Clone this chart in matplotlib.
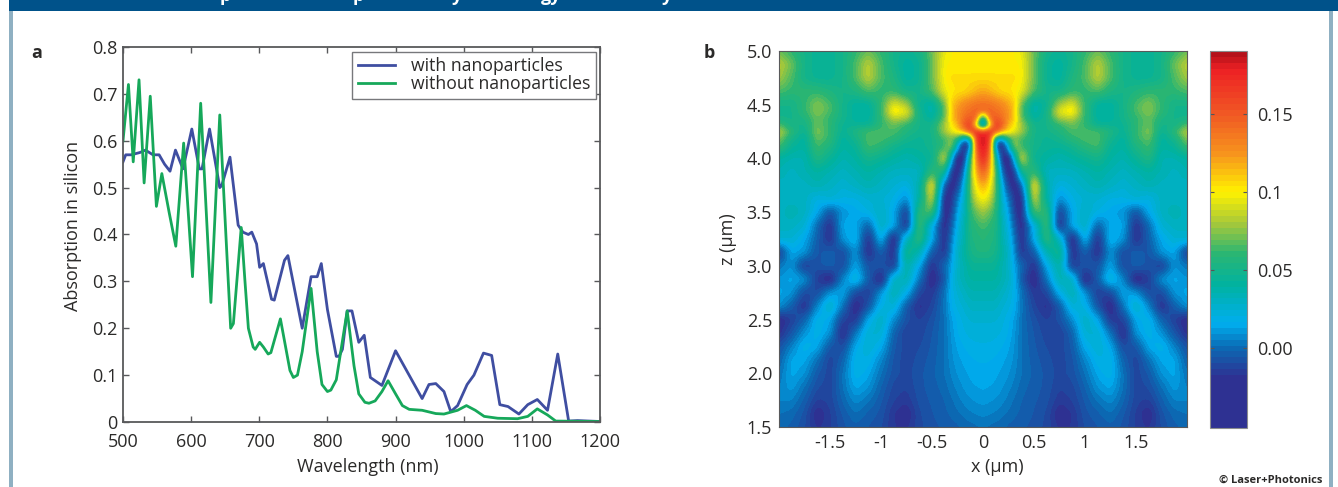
import numpy as np
import matplotlib
matplotlib.use("Agg")
import matplotlib.pyplot as plt
from matplotlib.colors import LinearSegmentedColormap
from matplotlib.patches import Rectangle

W, H = 1338, 487

# panel a
wl_with = [500,504,512,525,533,544,553,561,569,577,588,601,612,616,627,642,645,657,669,676,684,689,696,700.5,706,718,722,737,742,763,776,785,791,800,813,817,822,829,836,846,854,863,880,900,939,949,959,971,981,991,1005,1015,1029,1041,1053,1065,1081,1094,1108,1123,1138,1154,1167,1201]
abs_with = [.555,.57,.57,.575,.58,.57,.57,.55,.535,.58,.54,.625,.54,.54,.625,.5,.505,.565,.42,.405,.4,.405,.38,.33,.338,.262,.26,.345,.355,.2,.31,.31,.338,.24,.14,.14,.155,.237,.237,.17,.185,.095,.078,.152,.05,.08,.082,.065,.022,.035,.08,.1,.147,.142,.037,.033,.017,.037,.048,.025,.145,.002,.003,.001]
wl_without = [500,508,515,523.5,531,540,549,557,568,577.5,589,602,614,629,642,658,662,673.5,679,684,691,694,700.5,706,713,717,731,745,750,756,763,776,785,792,800,805,813,829,839,846,855,861,870,880,889,900,910,920,939,959,971,991,1004,1017,1030,1050,1079,1094,1108,1123,1135,1201]
abs_without = [.6,.72,.555,.73,.51,.695,.46,.53,.445,.375,.595,.31,.68,.255,.655,.2,.21,.415,.3,.2,.16,.155,.17,.16,.145,.148,.22,.11,.095,.1,.15,.285,.15,.08,.065,.068,.09,.237,.12,.06,.042,.04,.045,.065,.088,.06,.035,.027,.025,.018,.017,.025,.035,.025,.012,.008,.007,.012,.028,.015,.002,.001]
wl_ticks = [500,600,700,800,900,1000,1100,1200]
abs_ticks = [0,.1,.2,.3,.4,.5,.6,.7,.8]
abs_labels = ["0","0.1","0.2","0.3","0.4","0.5","0.6","0.7","0.8"]

# panel b, right half of the field (x >= 0) in units of 0.01, top row is z = 5
x_half = [0,.0625,.125,.1875,.25,.3125,.375,.5,.625,.75,.875,1,1.125,1.25,1.375,1.5,1.625,1.75,1.875,2]
z_rows = [5,4.875,4.75,4.625,4.5,4.4375,4.375,4.3125,4.25,4.1875,4.125,4,3.875,3.75,3.625,3.5,3.375,3.25,3.125,3,2.875,2.75,2.625,2.5,2.375,2.25,2.125,2,1.875,1.75,1.625,1.5]
field_half = [
    [10,10,10,10,10,10,9.5,7,5,4.5,5,6,7,6,5,4.5,4.5,5,6,7],
    [10,10,10,10,10,10,10,7,4.5,4,5,6.5,8.5,6.5,5,4.5,4.5,5,7,8.5],
    [10.5,10.5,10.5,10.5,10.5,10.5,10,7,4.5,4,5.5,6.5,8.5,6.5,5,4.5,4.5,5,6.5,8],
    [12,11.5,11,10.5,10.5,10,9.5,6.5,5,5,6,6,6.5,5.5,5,5.5,6,6,6,6.5],
    [14,14,13.5,13,12,11,7,3.5,4.5,8,9.5,6,4,4,5,6.5,7.5,6,5,5],
    [14.5,14.5,14,13.5,12.5,11,6.5,3.5,5,9.5,10.5,6,4,4,5,6.5,7.5,6,5,5],
    [1,14.5,15,14,12.5,11,7,4,5,8,8.5,6,4,4,5,6,7,5.5,5,5],
    [-2,8,17,15,11.5,10,8,5,5,6,7,6,4.5,4.5,4.5,6,7,5,5,6.5],
    [17,18,16,12,10.5,9.5,8,5,5,5.5,6.5,6.5,6.5,5.5,4.5,6,7.5,4.5,6,8.5],
    [18.5,17.5,3,2,6,7,6.5,5,4.5,5,6,6.5,6.5,5,4,6,7,4,5,7.5],
    [18.5,17,0,-3,3,8.5,6,5,4.5,4.5,5,6,6.5,4.5,4,5.5,6.5,4,4.5,6.5],
    [18,14,5,-2,-3,3,9,4.5,4,3.5,4,4.5,5,4,3.5,4.5,5.5,3.5,3.5,4],
    [15,12,7,0,-2.5,-1.5,5,6,3,3,3,3.5,4,3.5,3,3.5,4,3.5,3,3.5],
    [12,10.5,7,2,-1.5,-2.5,-.5,10,3.5,2,2.5,3,3.5,3,2.5,3,3.5,3,3,3],
    [10,9,6.5,2.5,.5,-2,-2.5,9,4,.8,2,2.5,2.5,2,2,2.5,2,3,3,3],
    [8,7,6,3,1.5,-1.5,-2.5,6.5,6,-1.5,1.5,3,2,1.5,1,-.7,1.5,3,3.5,3],
    [6.5,6,5.5,3.5,2,-.5,-2.5,2,6.5,-2,1.5,3,-.3,1.5,1.5,-2,0,2.5,3,3],
    [6,5.5,5.5,3.5,2.5,.3,-2.2,1.5,6,3,-2.5,2,-2,2,1,-2,-.3,1.5,2.5,2.5],
    [5.5,5.5,5,4,3,.8,-1.8,-.5,3.5,5,-2,-.3,-2,1,-1,-.3,-.7,1,1.5,-1.5],
    [4.5,4.5,4.5,3.5,3,1.2,0,-2,1.5,4,-1.5,-.7,-.7,1.5,-1,-.3,-.7,-1.5,1,.3],
    [4,4,4,3.5,3,1.8,-.5,-2.5,.3,3.5,3,-2.5,-.3,2.5,.7,-2.5,-1.5,1,1.5,1],
    [3.5,3.5,3.5,3,2.5,1.8,.3,-1.7,-1.2,1.8,3.5,1,-1.5,-1,1.5,1,-1,-1,1,1.5],
    [3,3,3,2.5,2.2,1.7,.3,-1.2,-2,-.5,2.5,2,-.7,-2.5,.3,3,.7,-2,-.3,1],
    [2.5,2.5,2.5,2.2,1.8,1.2,.2,-.8,-1.4,-.8,.8,3,1.5,-1.7,-1.3,1.5,2,-.2,-1.4,-2.3],
    [2.2,2.2,2.2,2,1.7,1,.2,-.6,-1.2,-1.4,-.2,2.5,2.5,.3,-2.3,1,2,1,-.6,-2],
    [2,2,1.9,1.7,1.4,.9,.2,-.5,-1,-1.2,-.5,1.6,2.5,1.5,-1,-.6,1.5,2,.6,-.8],
    [1.7,1.7,1.6,1.4,1.2,.8,.2,-.4,-.8,-1.2,-.7,.7,2,2,-.2,-1.3,.2,1.5,1.5,-.3],
    [1.6,1.6,1.4,1.2,1,.6,.2,-.3,-.7,-1.1,-.8,.2,1.5,2,.2,-1.2,-.5,1,1.5,.2],
    [1.4,1.3,1.2,1,.7,.4,0,-.4,-.7,-1.3,-1.1,-.2,1,1.5,.2,-1.2,-.9,.2,1.2,.5],
    [1.1,1,.9,.7,.4,.1,-.2,-.5,-.8,-1.6,-1.3,-.5,.3,.8,-.1,-1.2,-1.4,-.3,.6,.6],
    [.7,.6,.5,.3,.1,-.1,-.3,-.6,-1,-2.2,-1.7,-.7,-.3,.2,-.5,-1.4,-2.2,-.7,0,.2],
    [.2,.1,0,-.1,-.3,-.4,-.5,-.7,-1.1,-1.8,-1.7,-.9,-.6,-.3,-.7,-1.4,-1.8,-.9,-.3,-.1],
]
x_ticks = [-1.5,-1,-.5,0,.5,1,1.5]
x_labels = ["-1.5","-1","-0.5","0","0.5","1","1.5"]
z_ticks = [1.5,2,2.5,3,3.5,4,4.5,5]
z_labels = ["1.5","2.0","2.5","3.0","3.5","4.0","4.5","5.0"]
cb_ticks = [0,.05,.1,.15]
cb_labels = ["0.00","0.05","0.1","0.15"]
cb_stops = [-.051,-.02,0,.015,.04,.06,.08,.1,.125,.15,.18,.19]
cb_colors = ["#2e3192","#2e3192","#0a6cb5","#00aeef","#00b2a0","#2ab673","#a6c83a","#fff200","#f7941d","#f15a24","#ed2024","#b5121b"]

header_bits = ["p","p","y","gy","y"]
header_px = [220,353,452,541,662]

TEXT = "#2b2a29"
EDGE = "#58595b"
plt.rcParams["font.family"] = ["Open Sans", "DejaVu Sans"]
plt.rcParams["font.size"] = 13
plt.rcParams["text.color"] = TEXT
plt.rcParams["axes.labelcolor"] = TEXT
plt.rcParams["axes.edgecolor"] = EDGE
plt.rcParams["xtick.color"] = EDGE
plt.rcParams["ytick.color"] = EDGE
plt.rcParams["xtick.labelcolor"] = TEXT
plt.rcParams["ytick.labelcolor"] = TEXT


def pixelAxes(fig, left, top, right, bottom):
    return fig.add_axes([left/W, 1-bottom/H, (right-left)/W, (bottom-top)/H])


fig = plt.figure(figsize=(W/100, H/100), dpi=100)

# journal furniture
fig.patches.append(Rectangle((9/W, 1-11/H), (W-9)/W, 11/H, transform=fig.transFigure, facecolor="#00528a", linewidth=0))
fig.patches.append(Rectangle((9/W, 0), 4/W, 1-11/H, transform=fig.transFigure, facecolor="#8fb0c2", linewidth=0))
fig.patches.append(Rectangle((1329/W, 0), 4/W, 1-11/H, transform=fig.transFigure, facecolor="#8fb0c2", linewidth=0))
for bit, px in zip(header_bits, header_px):
    fig.text(px/W, 1-1/H, bit, color="white", fontsize=13, fontweight="bold", va="baseline")

# panel a
ax = pixelAxes(fig, 123, 47, 600, 422)
ax.plot(wl_with, abs_with, color="#3f4ea1", linewidth=2.0, label="with nanoparticles")
ax.plot(wl_without, abs_without, color="#16a85a", linewidth=2.0, label="without nanoparticles")
ax.set_xlim(500, 1200)
ax.set_ylim(0, .8)
ax.set_xticks(wl_ticks)
ax.set_yticks(abs_ticks, abs_labels)
ax.tick_params(direction="in", top=True, right=True, length=4, width=1)
ax.tick_params(axis="x", pad=8)
ax.tick_params(axis="y", pad=4)
ax.set_xlabel("Wavelength (nm)", labelpad=5, x=.513)
ax.set_ylabel("Absorption in silicon", labelpad=7, y=.524)
for spine in ax.spines.values():
    spine.set_linewidth(1.3)
ax.legend(loc="upper right", bbox_to_anchor=(.9916, .9867), borderaxespad=0, fancybox=False,
          framealpha=1, edgecolor="#77787b", fontsize=12.7, labelspacing=0, handlelength=2.1,
          borderpad=.3, handletextpad=.95)

# panel b, columns and rows are unevenly spaced so put them on an even grid, then mirror about x = 0
half = np.array(field_half)/100
fine_x = np.arange(0, 2+1/32, 1/16)
fine_z = np.arange(5, 1.5-1/32, -1/16)
by_x = np.array([np.interp(fine_x, x_half, row) for row in half])
by_z = np.array([np.interp(fine_z[::-1], z_rows[::-1], col[::-1])[::-1] for col in by_x.T]).T
field = np.hstack([by_z[:, :0:-1], by_z])
jet = LinearSegmentedColormap.from_list(
    "paper",
    [((s-cb_stops[0])/(cb_stops[-1]-cb_stops[0]), c) for s, c in zip(cb_stops, cb_colors)],
    N=64)
ax2 = pixelAxes(fig, 779, 51, 1187, 427)
im = ax2.imshow(field, cmap=jet, vmin=cb_stops[0], vmax=cb_stops[-1], aspect="auto",
                interpolation="bicubic", interpolation_stage="data",
                extent=(-2-1/32, 2+1/32, 1.5-1/32, 5+1/32))
ax2.set_xlim(-2, 2)
ax2.set_ylim(1.5, 5)
ax2.set_xticks(x_ticks, x_labels)
ax2.set_yticks(z_ticks, z_labels)
ax2.tick_params(length=0, pad=5)
ax2.set_xlabel("x (\u00b5m)", labelpad=4, x=.534)
ax2.set_ylabel("z (\u00b5m)", labelpad=7)

cax = pixelAxes(fig, 1210, 51, 1247, 428)
cb = fig.colorbar(im, cax=cax)
cb.set_ticks(cb_ticks, labels=cb_labels)
cax.tick_params(direction="in", left=True, right=True, length=3, width=.8, pad=7, color="#555555")
cb.outline.set_edgecolor("#8a8c8e")
cb.outline.set_linewidth(.8)

fig.text(37/W, 1-53/H, "a", fontsize=13, fontweight="bold", ha="center", va="center")
fig.text(709/W, 1-53/H, "b", fontsize=13, fontweight="bold", ha="center", va="center")
fig.text(1322/W, 1-480/H, "\u00a9 Laser+Photonics", fontsize=8, fontweight="bold", ha="right", va="center")

fig.savefig("out.png", dpi=100)
plt.close()
